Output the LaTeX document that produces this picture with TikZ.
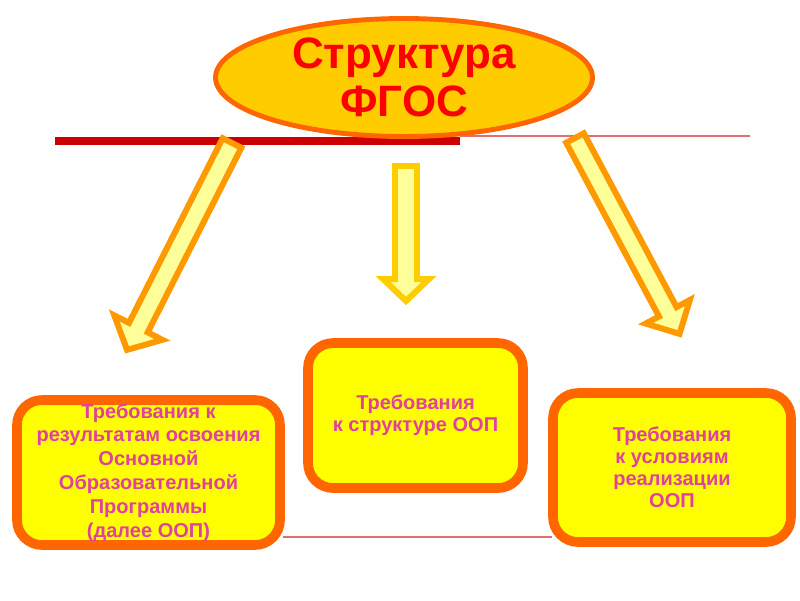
\documentclass[tikz,border=0pt]{standalone}
\usepackage{fontspec}
\setmainfont{Liberation Sans}
\usepackage{xcolor}
\usepackage{tikz}
\usetikzlibrary{shapes.geometric, calc}

\definecolor{titlered}{HTML}{FF0000}
\definecolor{barred}{HTML}{CC0000}
\definecolor{linered}{HTML}{E07070}
\definecolor{ovalfill}{HTML}{FFCC00}
\definecolor{frameorange}{HTML}{FF6600}
\definecolor{boxyellow}{HTML}{FFFF00}
\definecolor{textpink}{HTML}{E0409F}
\definecolor{arroworange}{HTML}{FF9900}
\definecolor{arrowgold}{HTML}{FFCC00}
\definecolor{arrowfill}{HTML}{FFFF99}

\tikzset{
  reqbox/.style={draw=frameorange, fill=boxyellow, line width=5.5pt, rounded corners=0.5cm,
    inner sep=0pt, text=textpink, align=center, font=\bfseries\fontsize{11.4pt}{12.6pt}\selectfont},
  fatarrow/.style={draw=arroworange, fill=arrowfill, line width=3.4pt}
}

% style, start, angle, length, shaft half, head half, head length
\newcommand{\blockarrow}[7]{%
  \draw[#1, shift={#2}, rotate=#3] (0,-#5) -- ({#4-#7},-#5) -- ({#4-#7},-#6) -- (#4,0)
    -- ({#4-#7},#6) -- ({#4-#7},#5) -- (0,#5) -- cycle;}

\begin{document}
\begin{tikzpicture}[x=0.02cm, y=-0.02cm]
	\useasboundingbox (0,0) rectangle (800,600);
	% lines behind
	\coordinate (bar1) at (55,141);
	\coordinate (bar2) at (460,141);
	\coordinate (top1) at (460,136);
	\coordinate (top2) at (750,136);
	\coordinate (low1) at (283,537);
	\coordinate (low2) at (552,537);
	\draw [barred, line width=4.5pt] (bar1) -- (bar2);
	\draw [linered, line width=0.6pt] (top1) -- (top2);
	\draw [linered, line width=0.6pt] (low1) -- (low2);
	% arrows
	\blockarrow{fatarrow}{(232,143)}{243.1}{232}{10.5}{27}{25}
	\blockarrow{fatarrow, draw=arrowgold}{(406,166)}{-90}{135}{11}{23}{22}
	\blockarrow{fatarrow}{(575,138)}{-61.9}{222}{10}{25}{25}
	% title
	\node [ellipse, draw=frameorange, fill=ovalfill, line width=2.8pt, minimum width=7.54cm,
		minimum height=2.36cm, inner sep=0pt, text=titlered, align=center,
		font=\bfseries\fontsize{25pt}{27.5pt}\selectfont] (fgos) at (404,77.5) {Структура\\ФГОС};
	% boxes
	\node [reqbox, minimum width=5.26cm, minimum height=2.9cm,
		font=\bfseries\fontsize{11.4pt}{13.6pt}\selectfont] (res) at (148.5,472.5)
		{Требования к\\результатам освоения\\Основной\\Образовательной\\Программы\\(далее ООП)};
	\node [reqbox, minimum width=4.3cm, minimum height=2.9cm] (str) at (415.5,415.5)
		{Требования\\к структуре ООП};
	\node [reqbox, minimum width=4.76cm, minimum height=2.98cm] (usl) at (672,467.5)
		{Требования\\к условиям\\реализации\\ООП};
\end{tikzpicture}
\end{document}
